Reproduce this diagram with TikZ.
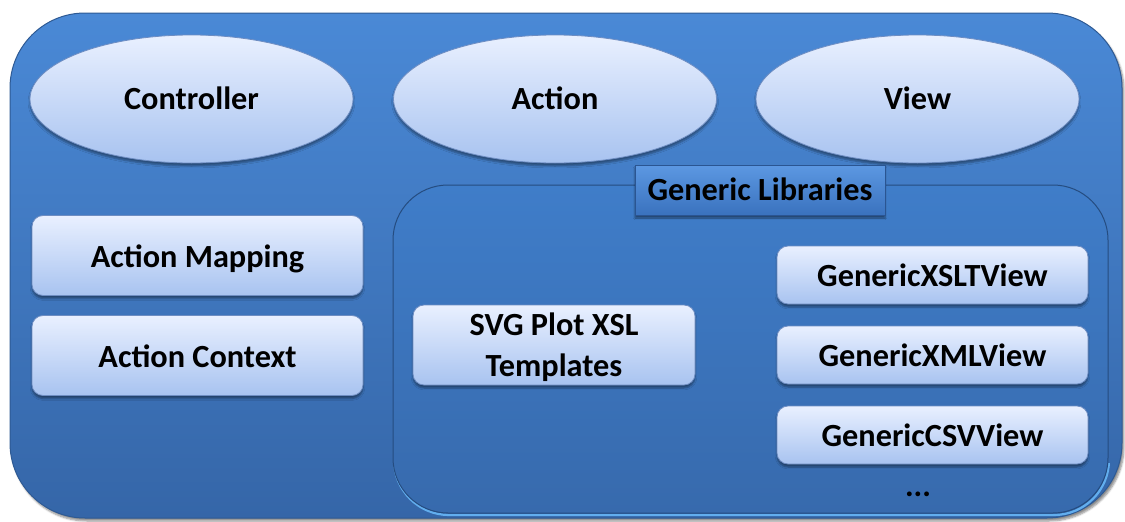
\documentclass[tikz,border=0pt]{standalone}
\usepackage{fontspec}
\setmainfont{Carlito}
\usetikzlibrary{shapes.geometric,shadows.blur}

\definecolor{frameTop}{HTML}{4A89D6}
\definecolor{frameBot}{HTML}{3566A8}
\definecolor{frameLine}{HTML}{2E5A94}
\definecolor{libTop}{HTML}{3F7DC9}
\definecolor{libBot}{HTML}{376AAD}
\definecolor{libLine}{HTML}{254C80}
\definecolor{libGlow}{HTML}{62AEEE}
\definecolor{boxTop}{HTML}{E9F0FF}
\definecolor{boxBot}{HTML}{A8C3F0}
\definecolor{boxLine}{HTML}{6E8DC2}
\definecolor{tagTop}{HTML}{5C98E2}
\definecolor{tagBot}{HTML}{3A72BE}
\definecolor{tagLine}{HTML}{2A5592}

\tikzset{
  txt/.style={font=\fontsize{32.3}{41}\selectfont\bfseries, text=black, align=center},
  oneline/.style={text height=29pt, text depth=6pt},
  lowline/.style={text height=26pt, text depth=6pt},
  frame/.style={draw=frameLine, line width=1pt, top color=frameTop, bottom color=frameBot,
    rounded corners=75pt,
    blur shadow={shadow xshift=2pt, shadow yshift=-3pt, shadow blur steps=6, shadow opacity=45}},
  oval/.style={txt, lowline, ellipse, draw=boxLine, line width=0.8pt, top color=boxTop, bottom color=boxBot,
    minimum width=323pt, minimum height=128pt, inner sep=0pt,
    blur shadow={shadow xshift=0pt, shadow yshift=-3pt, shadow blur steps=4, shadow opacity=40}},
  card/.style={txt, rectangle, rounded corners=11pt, draw=boxLine, line width=0.8pt,
    top color=boxTop, bottom color=boxBot, inner sep=0pt,
    blur shadow={shadow xshift=0pt, shadow yshift=-3pt, shadow blur steps=4, shadow opacity=40}},
  region/.style={rectangle, rounded corners=55pt, draw=libLine, line width=1pt,
    top color=libTop, bottom color=libBot, inner sep=0pt},
  tag/.style={txt, lowline, rectangle, draw=tagLine, line width=0.8pt, top color=tagTop, bottom color=tagBot,
    inner sep=0pt,
    blur shadow={shadow xshift=0pt, shadow yshift=-3pt, shadow blur steps=4, shadow opacity=45}},
}

\begin{document}
\begin{tikzpicture}[x=1pt, y=-1pt]
\useasboundingbox (0,0) rectangle (1125,522);

% outer container
\path[frame] (10,13) rectangle (1122,518);

% top row
\node[oval] (ctrl) at (191.5,99) {Controller};
\node[oval] (act)  at (555,99)   {Action};
\node[oval] (view) at (917.5,99) {View};

% left column
\node[card, oneline, minimum width=331pt, minimum height=80pt] (amap) at (197.5,255.5) {Action Mapping};
\node[card, oneline, minimum width=331pt, minimum height=80pt] (actx) at (197.5,355.5) {Action Context};

% generic libraries area: light rim along the lower edge, then the panel
\begin{scope}
  \clip (380,463) rectangle (1120,522);
  \draw[libGlow, line width=2.2pt, rounded corners=55pt] (394,187) rectangle (1109,515);
\end{scope}
\node[region, minimum width=715pt, minimum height=328pt] (lib) at (750.5,349) {};
\node[tag, minimum width=250pt, minimum height=50pt] (gl) at (760,190) {Generic Libraries};

\node[card, text height=69pt, text depth=6pt, minimum width=282pt, minimum height=80pt] (svg) at (554,345) {SVG Plot XSL\\Templates};

\node[card, oneline, minimum width=311pt, minimum height=58pt] (xslt) at (932.5,275) {GenericXSLTView};
\node[card, oneline, minimum width=311pt, minimum height=58pt] (xml)  at (932.5,355) {GenericXMLView};
\node[card, oneline, minimum width=311pt, minimum height=58pt] (csv)  at (932.5,435) {GenericCSVView};
\node[txt] (more) at (918,494) {...};
\end{tikzpicture}
\end{document}
